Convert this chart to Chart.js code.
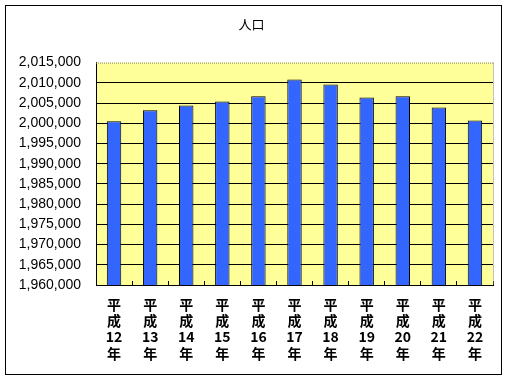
<!DOCTYPE html>
<html>
<head>
<meta charset="utf-8">
<script src="https://cdn.jsdelivr.net/npm/chart.js@4/dist/chart.umd.min.js"></script>
<style>
  html, body { margin: 0; padding: 0; background: #fff; }
  #wrap { width: 512px; height: 384px; }
</style>
</head>
<body>
<div id="wrap"><canvas id="barChart" width="512" height="384"></canvas></div>
<script>
// Data
const years = ['12', '13', '14', '15', '16', '17', '18', '19', '20', '21', '22'];
const population = [2000500, 2003200, 2004400, 2005400, 2006650, 2010800, 2009600, 2006400, 2006650, 2003900, 2000700];
const yMin = 1960000;
const yMax = 2015000;
const yStep = 5000;

// Category labels stacked vertically: 平 / 成 / NN / 年
const labels = years.map(y => ['平', '成', y, '年']);

// Yellow plot background, outer frame and dotted top/right edge
const framePlugin = {
    id: 'frame',
    beforeDraw(chart) {
        const { ctx, chartArea: a } = chart;
        ctx.save();
        ctx.fillStyle = '#ffffff';
        ctx.fillRect(0, 0, chart.width, chart.height);
        ctx.fillStyle = '#FFFF99';
        ctx.fillRect(a.left, a.top, a.right - a.left, a.bottom - a.top);
        ctx.strokeStyle = '#000';
        ctx.lineWidth = 1;
        ctx.strokeRect(5.5, 5.5, 496, 369);
        ctx.restore();
    },
    afterDraw(chart) {
        const { ctx, chartArea: a } = chart;
        ctx.save();
        ctx.strokeStyle = '#808080';
        ctx.lineWidth = 1;
        ctx.setLineDash([1, 1]);
        ctx.beginPath();
        ctx.moveTo(a.left, a.top + 0.5);
        ctx.lineTo(a.right, a.top + 0.5);
        ctx.moveTo(a.right + 0.5, a.top);
        ctx.lineTo(a.right + 0.5, a.bottom);
        ctx.stroke();
        ctx.restore();
    }
};

function createChart() {
    const ctx = document.getElementById('barChart').getContext('2d');
    new Chart(ctx, {
        type: 'bar',
        data: {
            labels: labels,
            datasets: [{
                label: '人口',
                data: population,
                backgroundColor: '#3366FF',
                borderColor: '#000000',
                borderWidth: 1,
                barPercentage: 0.4,
                categoryPercentage: 1.0
            }]
        },
        options: {
            responsive: false,
            animation: false,
            layout: { padding: { left: 10, right: 19, top: 0, bottom: 0 } },
            scales: {
                y: {
                    min: yMin,
                    max: yMax,
                    afterFit(scale) { scale.width = 86; },
                    ticks: {
                        stepSize: yStep,
                        padding: 15,
                        color: '#000',
                        font: { family: "'Liberation Sans', Arial, sans-serif", size: 14 },
                        callback: v => v.toLocaleString('en-US')
                    },
                    grid: {
                        color: ctx => (ctx.tick && ctx.tick.value === yMax) ? 'rgba(0,0,0,0)' : '#000',
                        lineWidth: 1,
                        drawTicks: false
                    },
                    border: { color: '#000', width: 1 }
                },
                x: {
                    afterFit(scale) { scale.height = 99; },
                    ticks: {
                        padding: 15,
                        color: '#000',
                        maxRotation: 0,
                        autoSkip: false,
                        font: { family: "'Noto Sans CJK JP', sans-serif", size: 14, weight: 'bold', lineHeight: 1.17 }
                    },
                    grid: {
                        offset: true,
                        drawOnChartArea: false,
                        tickLength: -4,
                        color: '#000'
                    },
                    border: { color: '#000', width: 1 }
                }
            },
            plugins: {
                legend: { display: false },
                tooltip: { enabled: false },
                title: {
                    display: true,
                    text: '人口',
                    color: '#000',
                    font: { family: "'Noto Sans CJK JP', sans-serif", size: 13, weight: 'normal', lineHeight: 1.2 },
                    padding: { top: 16, bottom: 31 }
                }
            }
        },
        plugins: [framePlugin]
    });
}

createChart();
</script>
</body>
</html>
